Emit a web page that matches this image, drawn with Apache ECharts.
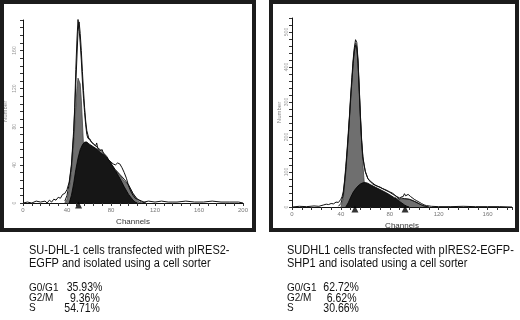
<!DOCTYPE html>
<html>
<head>
<meta charset="utf-8">
<script src="https://cdn.jsdelivr.net/npm/echarts@6/dist/echarts.min.js"></script>
<style>
  html, body { margin: 0; padding: 0; background: #fff; }
  #chart { width: 520px; height: 320px; }
</style>
</head>
<body>
<div id="chart"></div>
<script>
// left panel: SU-DHL-1 + pIRES2-EGFP  [channel, count]
const gfpRaw = [[0,0],[4,1],[8,0],[12,2],[16,1],[20,2],[22,0],[24,3],[26,1],[28,4],[30,3],[32,6],[34,5],[36,9],[38,10],[40,14],[42,22],[44,40],[46,75],[47,100],[48,140],[49,170],[50,193],[51,182],[52,168],[53,150],[54,128],[55,110],[56,95],[57,82],[58,72],[59,68],[60,66],[61,67],[62,64],[64,62],[66,60],[67,63],[68,57],[70,55],[72,56],[73,52],[74,50],[76,48],[78,45],[80,43],[82,41],[84,40],[86,42],[88,41],[90,37],[92,32],[94,26],[96,18],[98,12],[100,8],[102,5],[104,4],[106,3],[108,2],[110,1],[114,2],[120,1],[126,2],[132,1],[140,1],[148,2],[156,1],[164,1],[172,2],[180,1],[188,1],[196,1],[200,0]]
const gfpFit = [[38,2],[40,8],[42,20],[44,38],[46,70],[48,125],[50,180],[51,190],[52,178],[53,160],[54,138],[55,118],[56,100],[57,86],[58,76],[60,67],[64,62],[68,58],[72,54],[76,49],[80,41],[84,35],[88,30],[92,25],[96,19],[100,10],[104,4],[108,1],[112,0]]
const gfpG1 = [[38,0],[40,4],[42,14],[44,32],[46,60],[48,100],[49,120],[50,131],[51,133],[52,125],[53,108],[54,85],[55,60],[56,38],[57,22],[58,12],[60,4],[62,1],[64,0]]
const gfpS = [[42,0],[44,8],[46,20],[48,35],[50,47],[52,56],[54,61],[56,64],[57,65],[58,64],[60,62],[64,59],[68,56],[72,52],[76,48],[80,42],[84,34],[88,26],[92,17],[96,9],[100,3],[102,1],[104,0]]
const gfpG2 = [[84,34],[86,32],[88,29],[90,26],[92,23],[94,21],[96,18],[98,14],[100,10],[102,6],[104,3],[106,1],[108,0]]
const gfpMarks = [[50.5,0]]

// right panel: SUDHL1 + pIRES2-EGFP-SHP1
const shpRaw = [[0,0],[6,2],[12,1],[18,3],[22,2],[26,6],[28,8],[30,7],[32,10],[34,9],[36,14],[38,13],[40,22],[41,30],[42,45],[43,75],[44,115],[45,160],[46,210],[47,260],[48,320],[49,370],[50,420],[51,455],[52,478],[53,470],[54,420],[55,340],[56,260],[57,190],[58,145],[59,120],[60,102],[61,92],[62,82],[63,76],[64,72],[66,66],[68,62],[70,59],[72,57],[74,53],[76,50],[78,47],[80,43],[82,40],[84,35],[86,28],[88,22],[89,28],[90,33],[91,30],[92,38],[93,32],[94,30],[95,36],[96,34],[97,30],[98,26],[100,22],[102,18],[104,14],[106,10],[108,6],[110,4],[114,2],[120,1],[130,1],[140,2],[150,1],[160,1],[170,1],[180,0]]
const shpFit = [[38,2],[40,10],[42,35],[44,105],[46,200],[48,310],[50,410],[51,445],[52,462],[53,455],[54,410],[55,330],[56,250],[57,185],[58,140],[60,100],[62,82],[64,74],[68,63],[72,56],[76,49],[80,42],[84,33],[88,26],[92,24],[96,22],[100,16],[104,9],[108,3],[112,0]]
const shpG1 = [[40,0],[42,25],[44,100],[46,195],[48,305],[50,410],[51,450],[52,468],[53,460],[54,420],[55,345],[56,260],[57,185],[58,120],[59,75],[60,42],[62,12],[64,3],[66,0]]
const shpS = [[44,0],[46,12],[48,28],[50,42],[52,52],[54,60],[56,66],[58,69],[60,70],[62,68],[64,64],[68,57],[72,50],[76,43],[80,35],[84,26],[88,16],[90,11],[92,6],[94,2],[96,0]]
const shpG2 = [[84,28],[86,24],[88,21],[90,22],[92,23],[94,23],[96,22],[98,20],[100,17],[102,14],[104,10],[106,6],[108,3],[110,1],[112,0]]
const shpMarks = [[51.5,0],[92.5,0]]

const captions = [
  ['SU-DHL-1 cells transfected with pIRES2-', 'EGFP and isolated using a cell sorter'],
  ['SUDHL1 cells transfected with pIRES2-EGFP-', 'SHP1 and isolated using a cell sorter']
]
const phaseNames = ['G0/G1', 'G2/M', 'S']
const gfpPct = ['35.93%', '9.36%', '54.71%']
const shpPct = ['62.72%', '6.62%', '30.66%']

const FONT = '"Liberation Sans", Arial, sans-serif'

const xAxisFor = (idx, max, gap) => ({
  type: 'value', gridIndex: idx, min: 0, max: max, interval: 8,
  name: 'Channels', nameLocation: 'middle', nameGap: gap,
  nameTextStyle: { fontSize: 8, color: '#333', fontFamily: FONT },
  axisLine: { lineStyle: { color: '#111', width: 1 } },
  axisTick: { length: 3, lineStyle: { color: '#333' } },
  axisLabel: { fontSize: 6, color: '#777', margin: 4, fontFamily: FONT,
    formatter: v => (v % 40 === 0 ? v : '') },
  splitLine: { show: false }
})

const yAxisFor = (idx, max, step, every, gap, margin) => ({
  type: 'value', gridIndex: idx, min: 0, max: max, interval: step,
  name: 'Number', nameLocation: 'middle', nameGap: gap, nameRotate: 90,
  nameTextStyle: { fontSize: 6, color: '#888', fontFamily: FONT },
  axisLine: { show: true, lineStyle: { color: '#111', width: 1 } },
  axisTick: { show: true, length: 3, lineStyle: { color: '#333' } },
  axisLabel: { fontSize: 5, color: '#999', rotate: 90, margin: margin, fontFamily: FONT,
    formatter: v => (v % every === 0 ? v : '') },
  splitLine: { show: false }
})

const area = (idx, data, fill, edge, z) => ({
  type: 'line', xAxisIndex: idx, yAxisIndex: idx, data: data, z: z,
  showSymbol: false, silent: true,
  lineStyle: { color: edge, width: 0.8 },
  areaStyle: { color: fill, opacity: 1 }
})

const trace = (idx, data, z) => ({
  type: 'line', xAxisIndex: idx, yAxisIndex: idx, data: data, z: z,
  showSymbol: false, silent: true,
  lineStyle: { color: '#111', width: 1 }
})

const marks = (idx, data) => ({
  type: 'scatter', xAxisIndex: idx, yAxisIndex: idx, data: data, z: 10,
  symbol: 'triangle', symbolSize: 7, symbolOffset: [0, 2], clip: false,
  itemStyle: { color: '#000' }, silent: true
})

// caption + stats under each panel
const txt = (x, y, t, size) => ({
  type: 'text', x: x, y: y, scaleY: 1.15, z: 30,
  style: { text: t, fontSize: size, fill: '#111', fontFamily: FONT, verticalAlign: 'middle' }
})

const textBlock = (x, lines, pct, pctX) => {
  const out = []
  lines.forEach((t, i) => out.push(txt(x, [250.7, 263.3][i], t, 11)))
  phaseNames.forEach((t, i) => {
    const y = [287.7, 298.3, 308.3][i]
    out.push(txt(x, y, t, 10))
    out.push(txt(pctX[i], y, pct[i], 10.5))
  })
  return out
}

const chart = echarts.init(document.getElementById('chart'), null, { renderer: 'canvas' })

chart.setOption({
  backgroundColor: '#fff',
  animation: false,
  grid: [
    { left: 23, right: 277, top: 20, bottom: 117 },
    { left: 292, right: 8, top: 18, bottom: 113 }
  ],
  xAxis: [xAxisFor(0, 200, 11), xAxisFor(1, 180, 9)],
  yAxis: [yAxisFor(0, 192, 8, 40, 15, 6), yAxisFor(1, 540, 20, 100, 10, 3)],
  series: [
    area(0, gfpG1, '#6f6f6f', '#444', 2),
    area(0, gfpG2, '#707070', '#444', 2),
    area(0, gfpS, '#161616', '#000', 3),
    trace(0, gfpFit, 4),
    trace(0, gfpRaw, 5),
    marks(0, gfpMarks),
    area(1, shpG1, '#6f6f6f', '#444', 2),
    area(1, shpG2, '#707070', '#444', 2),
    area(1, shpS, '#161616', '#000', 3),
    trace(1, shpFit, 4),
    trace(1, shpRaw, 5),
    marks(1, shpMarks)
  ],
  graphic: [
    { type: 'rect', shape: { x: 2, y: 2, width: 252, height: 228 },
      style: { fill: 'none', stroke: '#1c1c1c', lineWidth: 4 }, z: 20 },
    { type: 'rect', shape: { x: 271, y: 2, width: 246, height: 228 },
      style: { fill: 'none', stroke: '#1c1c1c', lineWidth: 4 }, z: 20 }
  ]
    .concat(textBlock(29, captions[0], gfpPct, [66.7, 70, 64.3]))
    .concat(textBlock(287, captions[1], shpPct, [323.3, 326.7, 323.3]))
})
</script>
</body>
</html>
